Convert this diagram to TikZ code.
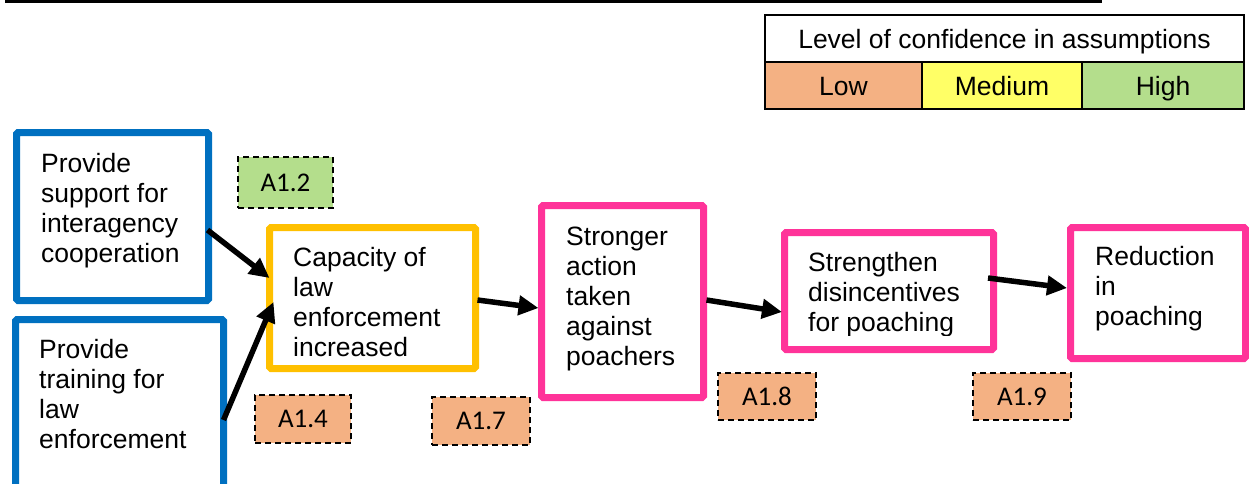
\documentclass[tikz,border=0pt]{standalone}
\usepackage{fontspec}
\setmainfont{Liberation Sans}
\newfontfamily\labelfont{Carlito}
\usetikzlibrary{arrows.meta,calc}
\definecolor{actblue}{HTML}{0070C0}
\definecolor{outorange}{HTML}{FFC000}
\definecolor{impink}{HTML}{FF3399}
\definecolor{lowconf}{HTML}{F4B183}
\definecolor{medconf}{HTML}{FFFF66}
\definecolor{highconf}{HTML}{B4DE8C}

\begin{document}
\begin{tikzpicture}[x=1pt,y=-1pt,
  chainbox/.style={draw, line width=7pt, rounded corners=1.5pt, fill=white, inner sep=0pt, outer sep=0pt},
  % multi-line text is placed by the baseline of its last line
  boxtext/.style={anchor=base west, inner sep=0pt, align=left, font=\fontsize{26.5}{30}\selectfont},
  assum/.style={draw, dash pattern=on 6pt off 4pt, line width=1.5pt, inner sep=0pt,
                font=\labelfont\fontsize{27}{30}\selectfont},
  link/.style={line width=5.5pt, -{Triangle[length=20pt,width=19pt]}},
  legcell/.style={draw, line width=1.5pt, inner sep=0pt, text height=19pt, text depth=0pt,
                  font=\fontsize{26.5}{30}\selectfont}
]
\useasboundingbox (0,0) rectangle (1249,483);
\clip (0,0) rectangle (1249,483);

% rule along the top edge
\coordinate (ruleL) at (5,1.5);
\coordinate (ruleR) at (1102,1.5);
\draw[line width=3pt] (ruleL) -- (ruleR);

% confidence legend
\node[legcell, fill=white, minimum width=479pt, minimum height=47pt] (legtitle) at (1004.5,38.5)
  {Level of confidence in assumptions};
\node[legcell, fill=lowconf, minimum width=157pt, minimum height=47pt] (leglow) at (843.5,85.5) {Low};
\node[legcell, fill=medconf, minimum width=160pt, minimum height=47pt] (legmed) at (1002,85.5) {Medium};
\node[legcell, fill=highconf, minimum width=162pt, minimum height=47pt] (leghigh) at (1163,85.5) {High};

% activities
\node[chainbox, draw=actblue, minimum width=192pt, minimum height=168pt] (act1) at (112.5,216.5) {};
\node[boxtext] (act1t) at (41,262) {Provide\\support for\\interagency\\cooperation};
\node[chainbox, draw=actblue, minimum width=208pt, minimum height=240pt] (act2) at (119.5,439.5) {};
\node[boxtext] (act2t) at (39,448) {Provide\\training for\\law\\enforcement};

% outcome
\node[chainbox, draw=outorange, minimum width=206pt, minimum height=141pt] (cap) at (372.5,298) {};
\begin{scope}
  \clip (280,230) rectangle (470,357);
  \node[boxtext] (capt) at (293,356) {Capacity of\\law\\enforcement\\increased};
\end{scope}

% impacts
\node[chainbox, draw=impink, minimum width=162pt, minimum height=192pt] (str) at (622.5,301.5) {};
\node[boxtext] (strt) at (566,365) {\fontsize{26.5}{30.5}\selectfont Stronger\\action\\taken\\against\\poachers};
\node[chainbox, draw=impink, minimum width=209pt, minimum height=117pt] (stg) at (889,291) {};
\begin{scope}
  \clip (795,236) rectangle (985,335);
  \node[boxtext] (stgt) at (808,331) {Strengthen\\disincentives\\for poaching};
\end{scope}
\node[chainbox, draw=impink, minimum width=175pt, minimum height=131pt] (red) at (1158,293) {};
\node[boxtext] (redt) at (1095,325) {Reduction\\in\\poaching};

% assumptions
\node[assum, fill=highconf, minimum width=95pt, minimum height=51pt] (a12) at (285.5,182.5) {A1.2};
\node[assum, fill=lowconf, minimum width=96pt, minimum height=48pt] (a14) at (303,419) {A1.4};
\node[assum, fill=lowconf, minimum width=98pt, minimum height=48pt] (a17) at (481,421) {A1.7};
\node[assum, fill=lowconf, minimum width=98pt, minimum height=47pt] (a18) at (767,396.5) {A1.8};
\node[assum, fill=lowconf, minimum width=98pt, minimum height=47pt] (a19) at (1022,396.5) {A1.9};

% causal links
\draw[link] ($(act1.east)+(-1,13.5)$) -- ($(cap.west)+(0,-20)$);
\draw[link] ($(act2.east)+(0,-19.5)$) -- ($(cap.west)+(4,4)$);
\draw[link] ($(cap.east)+(2,2)$) -- ($(str.west)+(-3,6.5)$);
\draw[link] ($(str.east)+(3,-1.5)$) -- ($(stg.west)+(-2.5,21)$);
\draw[link] ($(stg.east)+(-5.5,-13)$) -- ($(red.west)+(-3.5,-5)$);
\end{tikzpicture}
\end{document}
